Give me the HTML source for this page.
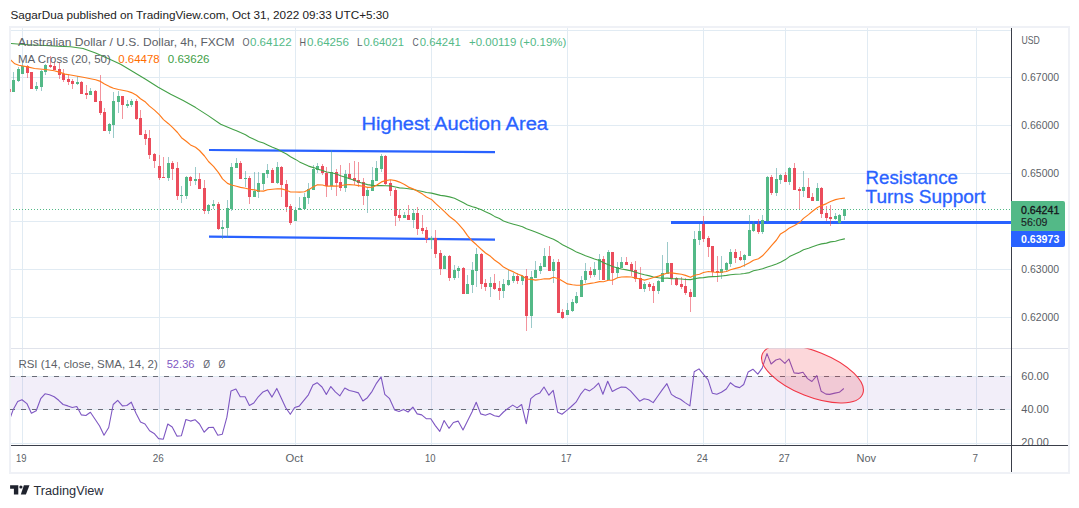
<!DOCTYPE html><html><head><meta charset="utf-8"><title>AUDUSD chart</title>
<style>html,body{margin:0;padding:0;background:#fff}svg{display:block;opacity:0.999}text{font-family:"Liberation Sans", sans-serif}</style></head><body>
<svg width="1079" height="508" viewBox="0 0 1079 508">
<rect width="1079" height="508" fill="#fff"/>
<text x="10.4" y="18.9" font-size="11.8" fill="#222" textLength="378.5" lengthAdjust="spacingAndGlyphs">SagarDua published on TradingView.com, Oct 31, 2022 09:33 UTC+5:30</text>
<path d="M9,26H1070V474H9zM11,28V472H1068V28z" fill="#eff1f6" fill-rule="evenodd" shape-rendering="crispEdges"/>
<defs><clipPath id="cm"><rect x="11" y="28" width="1000" height="320"/></clipPath><clipPath id="cr"><rect x="11" y="348.5" width="1000" height="96.5"/></clipPath></defs>
<path d="M22.5,28V445M159.5,28V445M295.5,28V445M431.5,28V445M567.5,28V445M703.5,28V445M785.5,28V445M867.5,28V445M976.5,28V445M11,30.5H1011M11,77.5H1011M11,125.5H1011M11,173.5H1011M11,221.5H1011M11,269.5H1011M11,317.5H1011M11,443.5H1011" stroke="#e1ebf3" stroke-width="1" fill="none" shape-rendering="crispEdges"/>
<path d="M11,348.5H1068" stroke="#e0e3eb" stroke-width="1" shape-rendering="crispEdges"/>
<path d="M11,376.5H1011M11,409.5H1011" stroke="#e1ebf3" stroke-width="1" shape-rendering="crispEdges"/>
<rect x="11" y="377" width="1000" height="32" fill="#7e57c2" fill-opacity="0.1"/>
<path d="M10,376.5H1011M10,409.5H1011" stroke="#686b76" stroke-width="1" stroke-dasharray="5,6" fill="none" shape-rendering="crispEdges"/>
<path d="M209,150L495,152.1" stroke="#2962ff" stroke-width="2.2" fill="none"/>
<path d="M209,236.6L495,239.6" stroke="#2962ff" stroke-width="2.2" fill="none"/>
<path d="M671,222.5H1011.5" stroke="#2962ff" stroke-width="3" fill="none"/>
<g clip-path="url(#cm)" shape-rendering="crispEdges">
<path d="M13,72h1v20h-1zM18,67h1v15h-1zM22,63h1v11h-1zM36,82h1v9h-1zM41,70h1v21h-1zM45,64h1v11h-1zM77,76h1v9h-1zM90,88h1v7h-1zM109,123h1v11h-1zM113,92h1v46h-1zM118,91h1v22h-1zM127,100h1v8h-1zM131,99h1v8h-1zM168,157h1v24h-1zM181,186h1v17h-1zM186,176h1v23h-1zM195,167h1v18h-1zM208,204h1v10h-1zM213,200h1v9h-1zM222,220h1v19h-1zM227,200h1v38h-1zM231,163h1v48h-1zM236,158h1v10h-1zM245,171h1v16h-1zM254,172h1v25h-1zM258,172h1v26h-1zM263,173h1v17h-1zM267,164h1v14h-1zM277,162h1v22h-1zM295,207h1v14h-1zM299,197h1v13h-1zM304,193h1v16h-1zM308,183h1v21h-1zM313,165h1v25h-1zM317,163h1v10h-1zM331,150h1v40h-1zM345,170h1v22h-1zM367,187h1v26h-1zM372,167h1v24h-1zM376,161h1v20h-1zM381,154h1v18h-1zM404,212h1v6h-1zM413,209h1v19h-1zM431,236h1v13h-1zM444,255h1v14h-1zM454,265h1v15h-1zM458,266h1v12h-1zM467,275h1v19h-1zM472,262h1v31h-1zM476,248h1v39h-1zM490,277h1v20h-1zM503,279h1v19h-1zM508,269h1v17h-1zM513,273h1v10h-1zM522,275h1v10h-1zM531,271h1v57h-1zM535,261h1v17h-1zM540,263h1v11h-1zM544,248h1v19h-1zM553,259h1v24h-1zM567,303h1v12h-1zM572,299h1v13h-1zM576,292h1v12h-1zM581,276h1v21h-1zM585,263h1v20h-1zM594,262h1v15h-1zM599,254h1v26h-1zM608,250h1v30h-1zM617,262h1v16h-1zM621,257h1v11h-1zM644,282h1v10h-1zM658,280h1v14h-1zM662,255h1v27h-1zM667,242h1v32h-1zM694,231h1v66h-1zM699,224h1v21h-1zM721,256h1v23h-1zM726,262h1v10h-1zM730,249h1v18h-1zM744,254h1v13h-1zM749,215h1v41h-1zM753,221h1v11h-1zM762,215h1v19h-1zM767,176h1v46h-1zM776,168h1v28h-1zM780,174h1v10h-1zM789,167h1v18h-1zM803,171h1v26h-1zM817,183h1v18h-1zM835,213h1v7h-1zM839,214h1v10h-1zM844,209h1v11h-1z" fill="#4a9e9e" fill-opacity="0.55"/>
<path d="M27,65h1v13h-1zM31,72h1v17h-1zM50,56h1v12h-1zM54,61h1v9h-1zM59,62h1v17h-1zM63,69h1v13h-1zM68,74h1v11h-1zM72,79h1v10h-1zM81,81h1v13h-1zM86,85h1v14h-1zM95,90h1v12h-1zM100,75h1v40h-1zM104,108h1v23h-1zM122,96h1v23h-1zM136,99h1v21h-1zM140,110h1v25h-1zM145,130h1v15h-1zM149,130h1v29h-1zM154,153h1v15h-1zM159,155h1v25h-1zM163,157h1v21h-1zM172,161h1v19h-1zM177,162h1v38h-1zM190,176h1v10h-1zM199,173h1v16h-1zM204,180h1v34h-1zM218,202h1v28h-1zM240,161h1v18h-1zM249,176h1v28h-1zM272,168h1v15h-1zM281,166h1v31h-1zM286,180h1v32h-1zM290,204h1v21h-1zM322,164h1v11h-1zM326,167h1v30h-1zM336,169h1v27h-1zM340,165h1v26h-1zM349,163h1v16h-1zM354,161h1v24h-1zM358,162h1v25h-1zM363,178h1v27h-1zM385,155h1v30h-1zM390,180h1v16h-1zM395,188h1v38h-1zM399,209h1v12h-1zM408,205h1v15h-1zM417,207h1v28h-1zM422,215h1v19h-1zM426,227h1v16h-1zM435,230h1v28h-1zM440,250h1v25h-1zM449,255h1v26h-1zM463,267h1v27h-1zM481,253h1v36h-1zM485,279h1v12h-1zM494,274h1v16h-1zM499,281h1v19h-1zM517,273h1v11h-1zM526,269h1v62h-1zM549,246h1v25h-1zM558,259h1v54h-1zM562,309h1v10h-1zM590,267h1v11h-1zM603,256h1v24h-1zM612,252h1v33h-1zM626,257h1v8h-1zM631,262h1v14h-1zM635,261h1v21h-1zM640,267h1v22h-1zM649,282h1v9h-1zM653,283h1v20h-1zM671,263h1v22h-1zM676,277h1v9h-1zM681,277h1v12h-1zM685,278h1v17h-1zM690,289h1v23h-1zM703,216h1v26h-1zM708,236h1v21h-1zM712,246h1v30h-1zM717,256h1v26h-1zM735,249h1v14h-1zM740,251h1v10h-1zM758,219h1v15h-1zM771,175h1v20h-1zM785,172h1v10h-1zM794,163h1v27h-1zM799,187h1v22h-1zM808,178h1v20h-1zM812,193h1v8h-1zM821,187h1v31h-1zM826,206h1v15h-1zM830,205h1v21h-1z" fill="#eb4d5c" fill-opacity="0.6"/>
<path d="M12,80h3v12h-3zM17,69h3v12h-3zM21,66h3v8h-3zM35,86h3v3h-3zM40,71h3v16h-3zM44,65h3v7h-3zM76,82h3v2h-3zM89,91h3v4h-3zM108,124h3v7h-3zM112,101h3v24h-3zM117,96h3v6h-3zM126,104h3v2h-3zM130,101h3v4h-3zM167,163h3v15h-3zM180,195h3v1h-3zM185,177h3v19h-3zM194,179h3v2h-3zM207,205h3v6h-3zM212,204h3v2h-3zM221,227h3v2h-3zM226,208h3v20h-3zM230,167h3v42h-3zM235,163h3v5h-3zM244,178h3v1h-3zM253,191h3v6h-3zM257,183h3v9h-3zM262,173h3v11h-3zM266,170h3v4h-3zM276,167h3v16h-3zM294,210h3v11h-3zM298,208h3v2h-3zM303,197h3v12h-3zM307,189h3v9h-3zM312,169h3v21h-3zM316,166h3v4h-3zM330,172h3v14h-3zM344,174h3v14h-3zM366,190h3v6h-3zM371,180h3v11h-3zM375,168h3v13h-3zM380,156h3v13h-3zM403,215h3v3h-3zM412,213h3v7h-3zM430,238h3v2h-3zM443,256h3v13h-3zM453,270h3v8h-3zM457,268h3v3h-3zM466,284h3v10h-3zM471,270h3v15h-3zM475,254h3v17h-3zM489,283h3v4h-3zM502,284h3v7h-3zM507,280h3v5h-3zM512,276h3v5h-3zM521,276h3v5h-3zM530,277h3v39h-3zM534,270h3v8h-3zM539,266h3v5h-3zM543,256h3v11h-3zM552,262h3v9h-3zM566,310h3v5h-3zM571,302h3v9h-3zM575,296h3v7h-3zM580,280h3v17h-3zM584,271h3v9h-3zM593,269h3v6h-3zM598,259h3v11h-3zM607,252h3v28h-3zM616,267h3v6h-3zM620,262h3v6h-3zM643,284h3v5h-3zM657,281h3v10h-3zM661,273h3v9h-3zM666,263h3v11h-3zM693,239h3v58h-3zM698,231h3v9h-3zM720,269h3v4h-3zM725,263h3v7h-3zM729,252h3v12h-3zM743,255h3v5h-3zM748,230h3v26h-3zM752,224h3v7h-3zM761,220h3v12h-3zM766,177h3v44h-3zM775,179h3v14h-3zM779,175h3v5h-3zM788,168h3v14h-3zM802,187h3v4h-3zM816,188h3v13h-3zM834,216h3v3h-3zM838,215h3v8h-3zM843,209h3v7h-3z" fill="#53b987"/>
<path d="M26,66h3v7h-3zM30,72h3v17h-3zM49,65h3v2h-3zM53,66h3v4h-3zM58,69h3v6h-3zM62,74h3v6h-3zM67,79h3v3h-3zM71,81h3v3h-3zM80,82h3v12h-3zM85,93h3v2h-3zM94,91h3v11h-3zM99,101h3v12h-3zM103,112h3v19h-3zM121,96h3v9h-3zM135,101h3v18h-3zM139,118h3v17h-3zM144,134h3v5h-3zM148,138h3v17h-3zM153,154h3v7h-3zM158,166h3v12h-3zM162,177h3v1h-3zM171,163h3v6h-3zM176,168h3v28h-3zM189,177h3v4h-3zM198,179h3v10h-3zM203,188h3v23h-3zM217,204h3v25h-3zM239,163h3v16h-3zM248,178h3v19h-3zM271,170h3v13h-3zM280,167h3v18h-3zM285,184h3v23h-3zM289,206h3v17h-3zM321,166h3v7h-3zM325,173h3v13h-3zM335,172h3v11h-3zM339,182h3v6h-3zM348,174h3v5h-3zM353,178h3v3h-3zM357,180h3v3h-3zM362,182h3v14h-3zM384,156h3v28h-3zM389,183h3v8h-3zM394,190h3v26h-3zM398,215h3v3h-3zM407,215h3v5h-3zM416,213h3v16h-3zM421,228h3v3h-3zM425,230h3v9h-3zM434,238h3v16h-3zM439,253h3v16h-3zM448,256h3v22h-3zM462,268h3v26h-3zM480,254h3v30h-3zM484,283h3v4h-3zM493,283h3v6h-3zM498,288h3v3h-3zM516,276h3v5h-3zM525,276h3v40h-3zM548,256h3v15h-3zM557,262h3v51h-3zM561,312h3v6h-3zM589,271h3v4h-3zM602,259h3v21h-3zM611,252h3v21h-3zM625,262h3v3h-3zM630,264h3v7h-3zM634,270h3v9h-3zM639,278h3v11h-3zM648,284h3v3h-3zM652,286h3v5h-3zM670,263h3v16h-3zM675,278h3v7h-3zM680,284h3v3h-3zM684,286h3v7h-3zM689,292h3v5h-3zM702,224h3v15h-3zM707,238h3v9h-3zM711,246h3v26h-3zM716,271h3v2h-3zM734,252h3v6h-3zM739,257h3v3h-3zM757,224h3v8h-3zM770,177h3v16h-3zM784,175h3v7h-3zM793,168h3v22h-3zM798,189h3v2h-3zM807,187h3v11h-3zM811,197h3v4h-3zM820,188h3v26h-3zM825,213h3v5h-3zM829,217h3v2h-3z" fill="#eb4d5c"/>
</g>
<path d="M13,209.5H1011" stroke="#53b987" stroke-width="1" stroke-dasharray="1,2" fill="none" shape-rendering="crispEdges"/>
<rect x="10" y="89" width="1" height="3" fill="#eb4d5c" fill-opacity="0.75" shape-rendering="crispEdges"/>
<g clip-path="url(#cm)" fill="none" stroke-linejoin="round" stroke-linecap="round">
<path d="M8.5,43.3 L20.5,44.3 L33.0,45.0 L45.5,45.5 L58.1,46.3 L70.6,46.8 L83.1,48.5 L95.6,53.0 L108.1,58.5 L120.6,64.3 L133.1,71.8 L145.6,79.3 L158.2,87.3 L170.7,94.3 L183.2,100.6 L195.7,107.6 L208.2,115.6 L220.7,124.3 L233.2,129.4 L236.5,130.7 L240.5,132.6 L245.5,134.7 L249.5,137.2 L254.5,139.6 L258.5,141.4 L263.5,143.1 L267.5,145.0 L272.5,147.3 L277.5,149.2 L281.5,151.5 L286.5,154.0 L290.5,156.8 L295.5,159.4 L299.5,161.9 L304.5,164.2 L308.5,166.1 L313.5,167.6 L317.5,169.1 L322.5,170.5 L326.5,172.0 L331.5,172.8 L336.5,174.0 L340.5,175.7 L345.5,177.3 L349.5,178.7 L354.5,180.3 L358.5,181.9 L363.5,183.5 L367.5,184.6 L372.5,185.4 L376.5,185.6 L381.5,185.5 L385.5,185.7 L390.5,185.9 L395.5,187.0 L399.5,187.9 L404.5,188.3 L408.5,188.8 L413.5,189.5 L417.5,190.5 L422.5,191.5 L426.5,192.5 L431.5,193.1 L435.5,194.1 L440.5,195.4 L444.5,195.9 L449.5,196.9 L454.5,198.2 L458.5,200.2 L463.5,202.8 L467.5,204.9 L472.5,206.7 L476.5,207.9 L481.5,209.7 L485.5,211.8 L490.5,214.0 L494.5,216.4 L499.5,218.6 L503.5,220.9 L508.5,222.8 L513.5,224.2 L517.5,225.3 L522.5,226.7 L526.5,228.8 L531.5,230.4 L535.5,232.0 L540.5,234.0 L544.5,235.8 L549.5,237.7 L553.5,239.2 L558.5,242.1 L562.5,244.8 L567.5,247.2 L572.5,249.7 L576.5,252.1 L581.5,254.1 L585.5,255.8 L590.5,257.4 L594.5,259.0 L599.5,260.6 L603.5,262.8 L608.5,264.7 L612.5,266.5 L617.5,268.0 L621.5,269.0 L626.5,269.9 L631.5,271.0 L635.5,272.2 L640.5,273.7 L644.5,274.8 L649.5,275.9 L653.5,277.0 L658.5,277.8 L662.5,278.2 L667.5,278.1 L671.5,278.6 L676.5,278.7 L681.5,279.0 L685.5,279.5 L690.5,279.6 L694.5,278.7 L699.5,277.9 L703.5,277.6 L708.5,276.9 L712.5,276.6 L717.5,276.4 L721.5,276.0 L726.5,275.4 L730.5,274.8 L735.5,274.3 L740.5,274.0 L744.5,273.5 L749.5,272.6 L753.5,270.7 L758.5,269.8 L762.5,268.8 L767.5,267.0 L771.5,265.8 L776.5,264.0 L780.5,262.2 L785.5,259.6 L789.5,256.6 L794.5,254.2 L799.5,252.0 L803.5,249.8 L808.5,248.2 L812.5,246.8 L817.5,245.0 L821.5,243.9 L826.5,243.1 L830.5,241.9 L835.5,241.2 L839.5,240.0 L844.5,238.9" stroke="#43a047" stroke-width="1.1"/>
<path d="M9.9,59.3 L14.8,63.8 L18.8,65.2 L27.6,66.9 L34.5,68.5 L42.4,69.2 L47.3,69.7 L54.2,70.8 L60.1,72.4 L65.0,74.1 L70.6,75.0 L83.1,77.3 L95.6,79.8 L100.5,81.4 L104.5,83.9 L109.5,86.6 L113.5,88.3 L118.5,89.5 L122.5,90.3 L127.5,91.2 L131.5,92.6 L136.5,95.3 L140.5,98.7 L145.5,102.1 L149.5,106.1 L154.5,110.1 L159.5,114.9 L163.5,119.6 L168.5,123.7 L172.5,127.4 L177.5,132.5 L181.5,137.7 L186.5,141.5 L190.5,144.9 L195.5,147.3 L199.5,150.5 L204.5,156.0 L208.5,161.5 L213.5,166.4 L218.5,172.6 L222.5,178.9 L227.5,183.4 L231.5,185.0 L236.5,186.2 L240.5,187.4 L245.5,188.3 L249.5,189.2 L254.5,189.9 L258.5,190.9 L263.5,191.1 L267.5,189.8 L272.5,189.2 L277.5,188.7 L281.5,188.9 L286.5,190.3 L290.5,192.0 L295.5,192.0 L299.5,192.1 L304.5,191.8 L308.5,189.8 L313.5,186.8 L317.5,184.7 L322.5,185.0 L326.5,186.2 L331.5,185.9 L336.5,186.1 L340.5,185.7 L345.5,184.8 L349.5,184.6 L354.5,185.0 L358.5,185.6 L363.5,186.3 L367.5,187.4 L372.5,187.2 L376.5,185.2 L381.5,181.9 L385.5,180.6 L390.5,179.7 L395.5,180.6 L399.5,182.1 L404.5,184.4 L408.5,187.1 L413.5,189.1 L417.5,191.2 L422.5,194.1 L426.5,197.0 L431.5,199.4 L435.5,203.4 L440.5,207.9 L444.5,211.7 L449.5,216.5 L454.5,220.2 L458.5,224.1 L463.5,229.8 L467.5,235.6 L472.5,241.3 L476.5,244.8 L481.5,249.5 L485.5,253.0 L490.5,256.3 L494.5,260.0 L499.5,263.5 L503.5,267.1 L508.5,269.7 L513.5,271.9 L517.5,274.0 L522.5,275.9 L526.5,279.0 L531.5,279.4 L535.5,280.1 L540.5,279.5 L544.5,278.8 L549.5,278.9 L553.5,277.3 L558.5,278.7 L562.5,281.1 L567.5,283.9 L572.5,284.8 L576.5,285.3 L581.5,285.2 L585.5,284.2 L590.5,283.4 L594.5,282.7 L599.5,281.6 L603.5,281.8 L608.5,280.3 L612.5,280.2 L617.5,277.7 L621.5,277.0 L626.5,276.7 L631.5,277.0 L635.5,278.1 L640.5,279.0 L644.5,280.1 L649.5,278.8 L653.5,277.5 L658.5,276.1 L662.5,274.6 L667.5,273.0 L671.5,272.9 L676.5,273.6 L681.5,274.2 L685.5,275.4 L690.5,277.3 L694.5,275.2 L699.5,274.2 L703.5,272.5 L708.5,271.5 L712.5,272.0 L717.5,272.4 L721.5,272.3 L726.5,271.5 L730.5,269.7 L735.5,268.4 L740.5,267.1 L744.5,265.2 L749.5,262.7 L753.5,260.2 L758.5,258.7 L762.5,255.8 L767.5,250.4 L771.5,245.7 L776.5,240.0 L780.5,233.9 L785.5,231.0 L789.5,227.9 L794.5,225.4 L799.5,222.6 L803.5,218.4 L808.5,214.6 L812.5,211.2 L817.5,207.5 L821.5,205.6 L826.5,203.6 L830.5,201.5 L835.5,199.6 L839.5,198.8 L844.5,198.1" stroke="#ff7a1a" stroke-width="1.15"/>
</g>
<g clip-path="url(#cr)"><path d="M9.9,418.6 L13.3,409.4 L17.7,401.6 L22.0,399.7 L26.9,403.6 L31.4,413.3 L36.2,410.8 L40.7,398.7 L45.0,393.8 L49.5,394.8 L54.2,396.8 L58.7,400.3 L63.1,404.5 L67.8,405.9 L72.3,407.5 L76.8,406.5 L81.4,414.9 L85.9,415.5 L90.4,412.3 L95.1,419.2 L99.6,426.0 L104.0,435.3 L108.7,427.5 L113.2,404.5 L117.7,400.3 L122.4,405.9 L126.8,405.5 L131.3,402.2 L136.0,413.3 L140.5,422.1 L145.0,424.0 L149.6,430.8 L154.1,433.4 L158.6,438.6 L163.3,439.2 L167.8,424.0 L172.2,427.0 L176.9,436.1 L181.4,435.7 L185.9,419.5 L190.5,421.1 L195.0,419.7 L199.5,424.0 L204.2,432.2 L208.7,427.5 L213.3,427.3 L217.8,435.3 L222.3,434.2 L226.9,417.2 L231.0,390.9 L235.9,389.0 L240.2,396.8 L245.1,396.8 L249.4,405.5 L253.8,403.0 L258.3,396.8 L263.0,391.9 L267.5,389.9 L272.0,397.1 L276.8,388.4 L281.1,397.7 L285.6,407.5 L290.3,414.3 L294.7,407.5 L299.2,406.1 L303.9,400.3 L308.4,394.8 L312.9,385.1 L317.1,382.7 L322.0,387.0 L326.3,394.4 L330.8,386.6 L335.3,391.9 L339.9,395.8 L344.8,388.0 L349.3,390.5 L353.8,391.5 L358.5,392.9 L362.9,401.0 L367.4,397.7 L372.1,391.3 L376.6,383.1 L381.1,376.9 L384.8,394.4 L389.6,398.7 L394.7,410.0 L399.0,411.4 L403.5,409.4 L408.1,412.0 L412.9,407.1 L417.2,413.9 L421.7,414.9 L426.2,418.6 L430.8,418.8 L435.3,425.6 L439.8,431.4 L444.1,420.5 L449.0,428.3 L453.4,422.5 L458.1,421.1 L463.0,429.9 L467.5,421.1 L472.0,412.0 L476.2,402.2 L480.7,413.9 L485.4,415.3 L489.9,413.5 L494.4,415.7 L499.0,416.6 L503.5,412.0 L508.0,408.4 L512.7,405.1 L517.1,407.9 L521.6,404.5 L526.3,423.6 L530.8,398.7 L535.3,394.8 L539.9,392.9 L544.0,387.0 L548.9,395.2 L553.2,390.3 L557.7,412.3 L562.0,414.3 L566.8,410.4 L571.3,406.5 L576.0,402.2 L580.5,394.4 L584.9,389.0 L589.6,390.9 L594.1,387.6 L598.6,383.1 L602.9,394.2 L607.7,381.2 L612.3,391.5 L616.8,389.0 L621.3,387.0 L626.0,387.4 L630.5,390.9 L634.9,395.8 L639.6,401.2 L644.1,398.7 L648.6,399.7 L653.2,402.6 L657.7,396.2 L662.2,389.9 L666.9,383.7 L671.4,394.4 L675.8,397.3 L680.5,399.3 L685.0,402.6 L689.9,405.9 L694.2,371.8 L699.0,368.9 L703.5,374.4 L708.0,379.6 L712.3,393.2 L716.8,394.2 L721.4,392.3 L726.3,389.0 L730.4,382.7 L735.1,386.4 L739.6,387.6 L743.7,384.5 L748.2,371.9 L752.9,369.2 L757.8,374.1 L762.2,368.2 L767.0,353.6 L771.1,364.0 L775.9,360.0 L780.0,358.8 L784.9,363.4 L788.9,359.0 L794.1,372.9 L798.6,373.4 L803.0,372.3 L807.5,378.6 L811.9,381.5 L816.8,375.6 L821.1,391.2 L826.0,394.1 L829.7,394.4 L834.9,393.1 L839.3,392.3 L843.8,388.5" stroke="#7e57c2" stroke-width="1.1" fill="none" stroke-linejoin="round"/>
<ellipse cx="812.5" cy="374" rx="54" ry="22.7" transform="rotate(21.6 812.5 374)" fill="#f23645" fill-opacity="0.2" stroke="#f23645" stroke-width="1.1"/></g>
<path d="M1011.5,28V472" stroke="#3a3e49" stroke-width="1" shape-rendering="crispEdges"/>
<path d="M11,445.5H1068" stroke="#3a3e49" stroke-width="1" shape-rendering="crispEdges"/>
<text x="361.5" y="129.6" font-size="18" fill="#2962ff" stroke="#2962ff" stroke-width="0.3" textLength="186.5" lengthAdjust="spacingAndGlyphs">Highest Auction Area</text>
<text x="865.5" y="183.6" font-size="18" fill="#2962ff" stroke="#2962ff" stroke-width="0.3" textLength="92.5" lengthAdjust="spacingAndGlyphs">Resistance</text>
<text x="865.5" y="203.2" font-size="18" fill="#2962ff" stroke="#2962ff" stroke-width="0.3" textLength="120" lengthAdjust="spacingAndGlyphs">Turns Support</text>
<text x="18.0" y="45.6" font-size="11.5" fill="#5c5f67" textLength="216.5" lengthAdjust="spacingAndGlyphs">Australian Dollar / U.S. Dollar, 4h, FXCM</text>
<text x="242.5" y="45.6" font-size="11.5" fill="#5c5f67" textLength="7.0" lengthAdjust="spacingAndGlyphs">O</text>
<text x="250.0" y="45.6" font-size="11.5" fill="#53b987" textLength="41.7" lengthAdjust="spacingAndGlyphs">0.64122</text>
<text x="299.5" y="45.6" font-size="11.5" fill="#5c5f67" textLength="6.5" lengthAdjust="spacingAndGlyphs">H</text>
<text x="307.0" y="45.6" font-size="11.5" fill="#53b987" textLength="42.0" lengthAdjust="spacingAndGlyphs">0.64256</text>
<text x="357.0" y="45.6" font-size="11.5" fill="#5c5f67" textLength="5.5" lengthAdjust="spacingAndGlyphs">L</text>
<text x="363.4" y="45.6" font-size="11.5" fill="#53b987" textLength="40.5" lengthAdjust="spacingAndGlyphs">0.64021</text>
<text x="412.6" y="45.6" font-size="11.5" fill="#5c5f67" textLength="6.2" lengthAdjust="spacingAndGlyphs">C</text>
<text x="419.8" y="45.6" font-size="11.5" fill="#53b987" textLength="41.0" lengthAdjust="spacingAndGlyphs">0.64241</text>
<text x="469.0" y="45.6" font-size="11.5" fill="#53b987" textLength="97.3" lengthAdjust="spacingAndGlyphs">+0.00119 (+0.19%)</text>
<text x="18.0" y="62.9" font-size="11.5" fill="#5c5f67" textLength="92.8" lengthAdjust="spacingAndGlyphs">MA Cross (20, 50)</text>
<text x="118.3" y="62.9" font-size="11.5" fill="#ff6d00" textLength="41.4" lengthAdjust="spacingAndGlyphs">0.64478</text>
<text x="167.8" y="62.9" font-size="11.5" fill="#43a047" textLength="41.7" lengthAdjust="spacingAndGlyphs">0.63626</text>
<text x="18.4" y="367.8" font-size="11.5" fill="#5c5f67" textLength="139.4" lengthAdjust="spacingAndGlyphs">RSI (14, close, SMA, 14, 2)</text>
<text x="166.7" y="367.8" font-size="11.5" fill="#7e57c2" textLength="27.8" lengthAdjust="spacingAndGlyphs">52.36</text>
<text x="203.3" y="367.8" font-size="11.3" fill="#5d606b" textLength="6.8" lengthAdjust="spacingAndGlyphs">Ø</text>
<text x="218.4" y="367.8" font-size="11.3" fill="#5d606b" textLength="6.8" lengthAdjust="spacingAndGlyphs">Ø</text>
<text x="1021.3" y="81.4" font-size="11" fill="#5c5f67" textLength="37.8" lengthAdjust="spacingAndGlyphs">0.67000</text>
<text x="1021.3" y="129.4" font-size="11" fill="#5c5f67" textLength="37.8" lengthAdjust="spacingAndGlyphs">0.66000</text>
<text x="1021.3" y="177.4" font-size="11" fill="#5c5f67" textLength="37.8" lengthAdjust="spacingAndGlyphs">0.65000</text>
<text x="1021.3" y="273.4" font-size="11" fill="#5c5f67" textLength="37.8" lengthAdjust="spacingAndGlyphs">0.63000</text>
<text x="1021.3" y="321.4" font-size="11" fill="#5c5f67" textLength="37.8" lengthAdjust="spacingAndGlyphs">0.62000</text>
<text x="1021.5" y="44.1" font-size="11" fill="#5c5f67" textLength="18.3" lengthAdjust="spacingAndGlyphs">USD</text>
<text x="1021.3" y="380.4" font-size="11" fill="#5c5f67" textLength="27.5" lengthAdjust="spacingAndGlyphs">60.00</text>
<text x="1021.3" y="413.0" font-size="11" fill="#5c5f67" textLength="27.5" lengthAdjust="spacingAndGlyphs">40.00</text>
<g clip-path="url(#cax)"><defs><clipPath id="cax"><rect x="1012" y="430" width="56" height="15"/></clipPath></defs>
<text x="1021.3" y="446.3" font-size="11" fill="#5c5f67" textLength="27.5" lengthAdjust="spacingAndGlyphs">20.00</text>
</g>
<path d="M1011,201h52a2,2 0 0 1 2,2v28h-54z" fill="#53b987"/>
<path d="M1011,231h54v14a2,2 0 0 1 -2,2h-52z" fill="#2962ff"/>
<text x="1021.0" y="213.5" font-size="11.3" fill="#16181d" textLength="38.3" lengthAdjust="spacingAndGlyphs" stroke="#16181d" stroke-width="0.35">0.64241</text>
<text x="1021.0" y="226.4" font-size="11" fill="#1c1f26" textLength="26.5" lengthAdjust="spacingAndGlyphs" stroke="#1c1f26" stroke-width="0.15">56:09</text>
<text x="1021.0" y="242.6" font-size="11" fill="#fff" textLength="38.3" lengthAdjust="spacingAndGlyphs" font-weight="bold">0.63973</text>
<text x="16.1" y="461.6" font-size="11" fill="#5c5f67" textLength="10.5" lengthAdjust="spacingAndGlyphs">19</text>
<text x="152.8" y="461.6" font-size="11" fill="#5c5f67" textLength="11.0" lengthAdjust="spacingAndGlyphs">26</text>
<text x="285.6" y="461.6" font-size="11" fill="#5c5f67" textLength="17.5" lengthAdjust="spacingAndGlyphs">Oct</text>
<text x="425.1" y="461.6" font-size="11" fill="#5c5f67" textLength="10.5" lengthAdjust="spacingAndGlyphs">10</text>
<text x="561.0" y="461.6" font-size="11" fill="#5c5f67" textLength="10.5" lengthAdjust="spacingAndGlyphs">17</text>
<text x="696.8" y="461.6" font-size="11" fill="#5c5f67" textLength="11.0" lengthAdjust="spacingAndGlyphs">24</text>
<text x="778.8" y="461.6" font-size="11" fill="#5c5f67" textLength="11.0" lengthAdjust="spacingAndGlyphs">27</text>
<text x="856.5" y="461.6" font-size="11" fill="#5c5f67" textLength="19.5" lengthAdjust="spacingAndGlyphs">Nov</text>
<text x="972.5" y="461.6" font-size="11" fill="#5c5f67" textLength="5.5" lengthAdjust="spacingAndGlyphs">7</text>
<path d="M10.1,485.3h8.2v9.2h-4.4v-5.8h-3.8z" fill="#1e222d"/>
<circle cx="20.9" cy="487" r="1.6" fill="#1e222d"/>
<path d="M23.9,485.3h5.6l-3.6,9.2h-5.1z" fill="#1e222d"/>
<text x="33.4" y="494.5" font-size="12.5" fill="#2a2e39" textLength="70.2" lengthAdjust="spacingAndGlyphs">TradingView</text>
</svg></body></html>
